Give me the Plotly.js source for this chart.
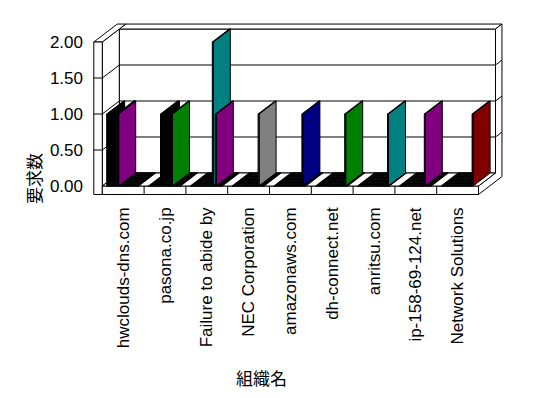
<!DOCTYPE html>
<html><head><meta charset="utf-8">
<script src="https://cdn.plot.ly/plotly-3.0.1.min.js"></script>
<style>html,body{margin:0;padding:0;background:#fff}</style>
</head><body><div id="chart" style="width:548px;height:398px"></div>
<script>
// ---- data ----
const categories = ["hwclouds-dns.com","pasona.co.jp","Failure to abide by","NEC Corporation","amazonaws.com","dh-connect.net","anritsu.com","ip-158-69-124.net","Network Solutions"];
const yTickValues = [0, 0.5, 1, 1.5, 2];
const yTickLabels = ["0.00","0.50","1.00","1.50","2.00"];
const yTitle = "要求数";
const xTitle = "組織名";
const seriesColors = ["#000000","#800000","#008000","#808000","#000080","#800080","#008080","#808080",
  "#c0c0c0","#ff0000","#008080","#800080","#808080","#000000","#00ff00","#ffff00",
  "#0000ff","#ff00ff","#00ffff","#800000","#008000","#808000","#008080","#008000",
  "#000080","#800080","#808080","#ff0000","#000080","#008000","#008080","#800000"];
const series00 = [1,0,0,0,0,0,0,0,0];
const series01 = [0,0,0,0,0,0,0,0,0];
const series02 = [0,0,0,0,0,0,0,0,0];
const series03 = [0,0,0,0,0,0,0,0,0];
const series04 = [0,0,0,0,0,0,0,0,0];
const series05 = [0,0,0,0,0,0,0,0,0];
const series06 = [0,0,0,0,0,0,0,0,0];
const series07 = [0,0,0,0,0,0,0,0,0];
const series08 = [0,0,0,0,0,0,0,0,0];
const series09 = [0,0,0,0,0,0,0,0,0];
const series10 = [1,0,0,0,0,0,0,0,0];
const series11 = [1,0,0,0,0,0,0,0,0];
const series12 = [0,1,0,0,0,0,0,0,0];
const series13 = [0,1,0,0,0,0,0,0,0];
const series14 = [0,0,0,0,0,0,0,0,0];
const series15 = [0,0,0,0,0,0,0,0,0];
const series16 = [0,0,0,0,0,0,0,0,0];
const series17 = [0,0,0,0,0,0,0,0,0];
const series18 = [0,0,0,0,0,0,0,0,0];
const series19 = [0,0,0,0,0,0,0,0,0];
const series20 = [0,0,0,0,0,0,0,0,0];
const series21 = [0,0,0,0,0,0,0,0,0];
const series22 = [0,0,2,0,0,0,0,0,0];
const series23 = [0,1,0,0,0,0,0,0,0];
const series24 = [0,0,0,0,0,0,0,0,0];
const series25 = [0,0,1,0,0,0,0,1,0];
const series26 = [0,0,0,1,0,0,0,0,0];
const series27 = [0,0,0,0,0,0,0,0,0];
const series28 = [0,0,0,0,1,0,0,0,0];
const series29 = [0,0,0,0,0,1,0,0,0];
const series30 = [0,0,0,0,0,0,1,0,0];
const series31 = [0,0,0,0,0,0,0,0,1];
const seriesList = [series00,series01,series02,series03,series04,series05,series06,series07,
  series08,series09,series10,series11,series12,series13,series14,series15,
  series16,series17,series18,series19,series20,series21,series22,series23,
  series24,series25,series26,series27,series28,series29,series30,series31];

// ---- 3D geometry (styling) ----
const PX_CAT = 41.8, PX_VAL = 72, X0PX = 102.3, Y0PX = 186;
const DX = 17 / PX_CAT, DY = 13 / PX_VAL;      // oblique depth vector
const clusterOff = 4.4 / PX_CAT, slotW = 1.0 / PX_CAT;
const nCat = categories.length;
const WALL = -8.5 / PX_CAT;                   // left wall outer x
const FB = (Y0PX - 194.5) / PX_VAL;           // floor slab bottom
const BACK = 1.38;                            // outer back depth
const xPx = px => (px - X0PX) / PX_CAT;
const yPx = py => (Y0PX - py) / PX_VAL;
const L = 88, R = 505, T = 15, B = 200;
const paperX = px => (px - L) / (R - L);
const paperY = py => (B - py) / (B - T);

function P(x, v, d) { return [x + d * DX, v + d * DY]; }
function pathOf(pts) { return 'M ' + pts.map(p => p[0] + ',' + p[1]).join(' L ') + ' Z'; }

const shapes = [];
function face(pts) {
  shapes.push({type:'path', xref:'x', yref:'y', layer:'below', path: pathOf(pts),
    fillcolor:'#ffffff', line:{color:'#000', width:1}});
}
function seg(pts) {
  for (let i = 0; i < pts.length - 1; i++) {
    shapes.push({type:'line', xref:'x', yref:'y', layer:'below',
      x0:pts[i][0], y0:pts[i][1], x1:pts[i+1][0], y1:pts[i+1][1], line:{color:'#000', width:1}});
  }
}
const ymax = yTickValues[yTickValues.length - 1];
// walls & floor
face([P(0,0,1), P(nCat,0,1), P(nCat,ymax,1), P(0,ymax,1)]);
face([P(0,ymax,1), P(nCat,ymax,1), P(nCat,ymax,BACK), P(0,ymax,BACK)]);
face([P(nCat,FB,0), P(nCat,0,0), P(nCat,0,1), P(nCat,ymax,1), P(nCat,ymax,BACK), P(nCat,FB,BACK)]);
face([P(0,0,0), P(0,ymax,0), P(0,ymax,1), P(0,0,1)]);
face([P(WALL,ymax,0), P(0,ymax,0), P(0,ymax,1), P(0,ymax,BACK), P(WALL,ymax,BACK)]);
face([P(WALL,FB,0), P(0,FB,0), P(0,ymax,0), P(WALL,ymax,0)]);
face([P(0,FB,0), P(nCat,FB,0), P(nCat,0,0), P(0,0,0)]);
face([P(0,0,0), P(nCat,0,0), P(nCat,0,1), P(0,0,1)]);
yTickValues.slice(1, -1).forEach(v => {
  seg([P(WALL,v,0), P(0,v,0), P(0,v,1), P(nCat,v,1), P(nCat,v,BACK)]);
});
for (let i = 1; i < nCat; i++) seg([P(i,FB,0), P(i,0,0)]);

// bars (painter's order: category left->right, slot left->right)
const traces = [];
function addPoly(xs, ys, pts) {
  pts.concat([pts[0]]).forEach(p => { xs.push(p[0]); ys.push(p[1]); });
  xs.push(null); ys.push(null);
}
for (let c = 0; c < nCat; c++) {
  seriesList.forEach((vals, s) => {
    const v = vals[c];
    const x0 = c + clusterOff + s * slotW, x1 = x0 + slotW;
    const xs = [], ys = [];
    if (v > 0) {
      addPoly(xs, ys, [[x0,0],[x1,0],[x1,v],[x0,v]]);
      addPoly(xs, ys, [P(x1,0,0), P(x1,0,1), P(x1,v,1), P(x1,v,0)]);
    }
    addPoly(xs, ys, [P(x0,v,0), P(x1,v,0), P(x1,v,1), P(x0,v,1)]);
    traces.push({type:'scatter', mode:'lines', x:xs, y:ys, fill:'toself',
      fillcolor: seriesColors[s], line:{color:'#000', width:1},
      hoverinfo:'skip', showlegend:false, name: categories[c]});
  });
}

const tickFont = {family:'"Liberation Sans", Arial, sans-serif', size:17, color:'#000'};
const titleFont = {family:'"Noto Sans CJK JP", sans-serif', size:17, color:'#000'};
const layout = {
  width:548, height:398,
  margin:{l:L, r:548-R, t:T, b:398-B, pad:0},
  paper_bgcolor:'#fff', plot_bgcolor:'rgba(0,0,0,0)',
  showlegend:false,
  xaxis:{range:[xPx(L), xPx(R)], tickvals:categories.map((_,i)=>i+0.5), ticktext:categories,
    tickangle:-90, showgrid:false, zeroline:false, showline:false, ticks:'',
    tickfont:tickFont, automargin:false, fixedrange:true, ticklabelstandoff:3},
  yaxis:{range:[yPx(B), yPx(T)], tickvals:yTickValues, ticktext:yTickLabels,
    showgrid:false, zeroline:false, showline:false, ticks:'',
    tickfont:tickFont, automargin:false, fixedrange:true, ticklabelstandoff:4},
  shapes: shapes,
  annotations:[
    {text:yTitle, xref:'paper', yref:'paper', x:paperX(33), y:paperY(178), xanchor:'center', yanchor:'middle',
     showarrow:false, textangle:-90, font:titleFont},
    {text:xTitle, xref:'paper', yref:'paper', x:paperX(261), y:paperY(377), xanchor:'center', yanchor:'middle',
     showarrow:false, font:titleFont}
  ]
};
Plotly.newPlot('chart', traces, layout, {staticPlot:true, displayModeBar:false});
</script></body></html>
